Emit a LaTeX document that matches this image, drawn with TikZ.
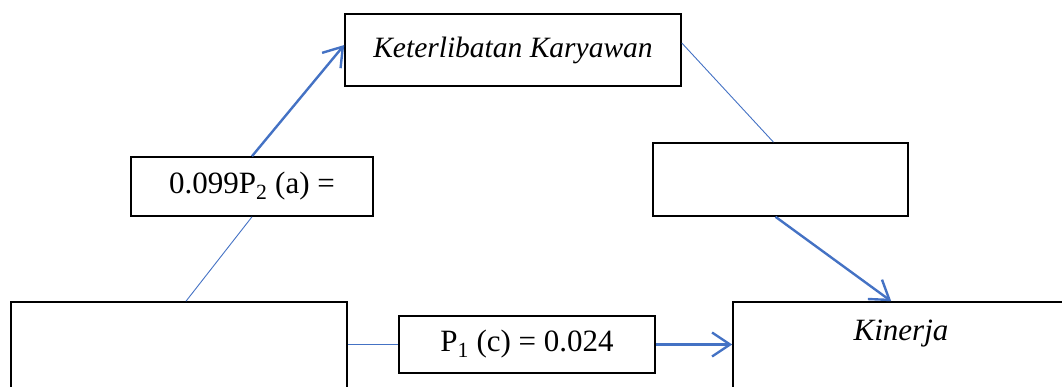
\documentclass[tikz,border=0pt]{standalone}
\usepackage{fontspec}
\setmainfont{Liberation Serif}
\usetikzlibrary{arrows.meta,calc}
\begin{document}
\begin{tikzpicture}[x=1pt,y=-1pt,
  every node/.style={font=\fontsize{31}{36}\selectfont},
  box/.style={draw=black, line width=1.6pt, inner sep=0pt, fill=white},
  txt/.style={inner sep=0pt},
  thinlink/.style={draw=linkblue, line width=0.9pt},
  arrowlink/.style={draw=linkblue, line width=2.4pt,
    -{Straight Barb[length=18pt,width=24pt,line width=2.4pt]}}]
\definecolor{linkblue}{HTML}{4472C4}
\useasboundingbox (0,0) rectangle (1062,387);
\clip (0,0) rectangle (1062,387);

% boxes
\node[box, minimum width=336pt, minimum height=72pt] (ket) at (513,50)
  {\fontsize{29.5}{36}\selectfont\textit{Keterlibatan Karyawan}};
\node[box, minimum width=242pt, minimum height=59pt] (ptwo) at (252,186.5)
  {0.099P\textsubscript{2} (a) =};
\node[box, minimum width=255pt, minimum height=73pt] (mid) at (780.5,179.5) {};
\node[box, minimum width=336pt, minimum height=120pt] (src) at (179,362) {};
\node[box, minimum width=256pt, minimum height=57pt] (pone) at (527,344.5)
  {P\textsubscript{1} (c) = 0.024};
\node[box, minimum width=360pt, minimum height=120pt] (kin) at (913,362) {};
\node[txt] (kintxt) at (901,334) {\textit{Kinerja}};

% connectors
\draw[thinlink] ($(src.north)+(7,0)$) -- (ptwo.south);
\draw[arrowlink] (ptwo.north) -- ($(ket.west)+(0,-5)$);
\draw[thinlink] ($(ket.east)+(0,-7)$) -- ($(mid.north)+(-7,0)$);
\draw[arrowlink] ($(mid.south)+(-5,0)$) -- ($(kin.north west)+(159,0)$);
\draw[thinlink] (pone.west -| src.east) -- (pone.west);
\draw[arrowlink] (pone.east) -- (pone.east -| kin.west);
\end{tikzpicture}
\end{document}
